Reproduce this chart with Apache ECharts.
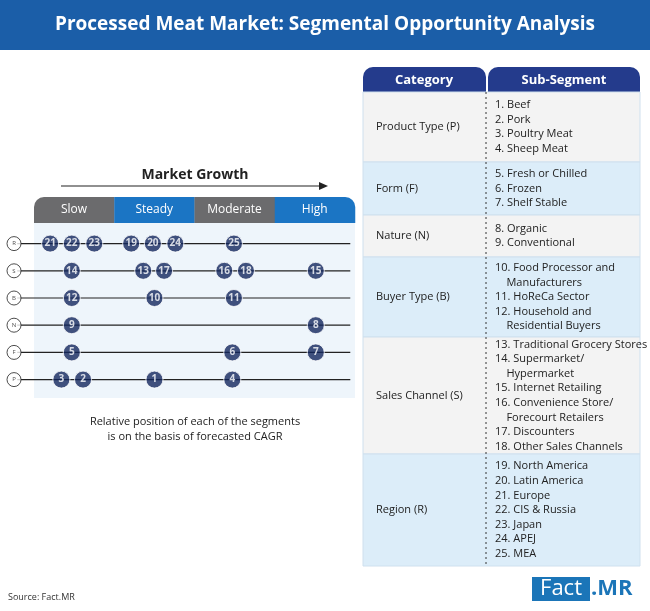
<!DOCTYPE html>
<html><head><meta charset="utf-8">
<script src="https://cdn.jsdelivr.net/npm/echarts@6/dist/echarts.min.js"></script>
<style>html,body{margin:0;padding:0;background:#fff}#c{width:650px;height:611px}</style>
</head><body><div id="c"></div>
<script>
const title = 'Processed Meat Market: Segmental Opportunity Analysis';
const growthLabels = ['Slow','Steady','Moderate','High'];
const rowLetters = ['P','F','N','B','S','R'];
// segment number, growth position (0-4 scale), row index
const segNums = ['21','22','23','19','20','24','25','14','13','17','16','18','15','12','10','11','9','8','5','6','7','3','2','1','4'];
const segX =    [0.2,0.47,0.75,1.21,1.48,1.76,2.49,0.47,1.36,1.62,2.37,2.64,3.51,0.47,1.5,2.49,0.47,3.51,0.47,2.47,3.51,0.34,0.61,1.5,2.47];
const segRow =  [5,5,5,5,5,5,5,4,4,4,4,4,4,3,3,3,2,2,1,1,1,0,0,0,0];
const categories = ['Product Type (P)','Form (F)','Nature (N)','Buyer Type (B)','Sales Channel (S)','Region (R)'];
const subSegments = [
 ['1. Beef','2. Pork','3. Poultry Meat','4. Sheep Meat'],
 ['5. Fresh or Chilled','6. Frozen','7. Shelf Stable'],
 ['8. Organic','9. Conventional'],
 ['10. Food Processor and','    Manufacturers','11. HoReCa Sector','12. Household and','    Residential Buyers'],
 ['13. Traditional Grocery Stores','14. Supermarket/','    Hypermarket','15. Internet Retailing','16. Convenience Store/','    Forecourt Retailers','17. Discounters','18. Other Sales Channels'],
 ['19. North America','20. Latin America','21. Europe','22. CIS & Russia','23. Japan','24. APEJ','25. MEA']
];
const note = ['Relative position of each of the segments','is on the basis of forecasted CAGR'];

const rowBounds = [[92,162],[162,215],[215,257],[257,337],[337,454],[454,566]];
const F = 'Open Sans, sans-serif';
const g = [];
// title bar
g.push({type:'rect',shape:{x:0,y:0,width:650,height:50},style:{fill:'#1b5ea8'}});
g.push({type:'text',x:325,y:25,style:{text:title,fill:'#fff',font:'bold 19px '+F,align:'center',verticalAlign:'middle'}});
// left panel bg
g.push({type:'rect',z:-1,shape:{x:34,y:223,width:321,height:175},style:{fill:'#eef5fb'}});
g.push({type:'text',x:195,y:175,style:{text:'Market Growth',fill:'#222',font:'bold 14px '+F,align:'center',verticalAlign:'middle'}});
g.push({type:'line',shape:{x1:61,y1:186,x2:322,y2:186},style:{stroke:'#222',lineWidth:1.2}});
g.push({type:'polygon',shape:{points:[[328,186],[319,182],[319,190]]},style:{fill:'#222'}});
growthLabels.forEach((t,i)=>{
  const x=34+i*80.25;
  const r = i===0?[10,0,0,0]:(i===3?[0,10,0,0]:0);
  g.push({type:'rect',shape:{x:x,y:197,width:80.5,height:26,r:r},style:{fill:i%2?'#1b75c4':'#6b6b6d'}});
  g.push({type:'text',x:x+40,y:210,style:{text:t,fill:'#fff',font:'12px '+F,align:'center',verticalAlign:'middle'}});
});
g.push({type:'text',x:195,y:429,style:{text:note.join('\n'),fill:'#222',font:'11px '+F,align:'center',verticalAlign:'middle',lineHeight:15}});
// table
g.push({type:'rect',shape:{x:363,y:67,width:123,height:25,r:[10,10,0,0]},style:{fill:'#243b8c'}});
g.push({type:'rect',shape:{x:488,y:67,width:152,height:25,r:[10,10,0,0]},style:{fill:'#243b8c'}});
g.push({type:'text',x:424,y:80,style:{text:'Category',fill:'#fff',font:'bold 13px '+F,align:'center',verticalAlign:'middle'}});
g.push({type:'text',x:564,y:80,style:{text:'Sub-Segment',fill:'#fff',font:'bold 13px '+F,align:'center',verticalAlign:'middle'}});
categories.forEach((c,i)=>{
  const [y0,y1]=rowBounds[i];
  g.push({type:'rect',shape:{x:363,y:y0,width:277,height:y1-y0},style:{fill:i%2?'#dcedf9':'#f3f3f3',stroke:'#cfe0ee',lineWidth:1}});
  g.push({type:'text',x:376,y:(y0+y1)/2,style:{text:c,fill:'#222',font:'11px '+F,verticalAlign:'middle'}});
  g.push({type:'text',x:495,y:(y0+y1)/2,style:{text:subSegments[i].join('\n'),fill:'#222',font:'11px '+F,verticalAlign:'middle',lineHeight:14.6}});
});
g.push({type:'line',shape:{x1:486,y1:92,x2:486,y2:566},style:{stroke:'#333',lineWidth:1,lineDash:[2,3]}});
// footer
g.push({type:'text',x:8,y:597,style:{text:'Source: Fact.MR',fill:'#333',font:'9px '+F,verticalAlign:'middle'}});
g.push({type:'rect',shape:{x:532,y:577,width:58,height:24},style:{fill:'#1b75b8'}});
g.push({type:'text',x:561,y:589,style:{text:'Fact',fill:'#fff',font:'22px '+F,align:'center',verticalAlign:'middle'}});
g.push({type:'text',x:591,y:589,style:{text:'.MR',fill:'#1b75b8',font:'bold 22px '+F,verticalAlign:'middle'}});

const rowLines = rowLetters.map((l,i)=>({type:'line',data:[[-0.21,i+0.5],[3.94,i+0.5]],symbol:'none',silent:true,lineStyle:{color:'#222',width:1.2},z:1}));
const chart = echarts.init(document.getElementById('c'));
chart.setOption({
  animation:false,
  grid:{left:10,width:345.1,top:230,height:163.2},
  xAxis:{type:'value',min:-0.3,max:4,show:false},
  yAxis:{type:'value',min:0,max:6,show:false},
  graphic:g,
  series:[...rowLines,
   {type:'scatter',z:3,symbolSize:14,data:rowLetters.map((l,i)=>[-0.25,i+0.5,l]),
    itemStyle:{color:'#fff',borderColor:'#222',borderWidth:1},
    label:{show:true,formatter:p=>p.data[2],color:'#222',fontSize:6,fontFamily:F}},
   {type:'scatter',z:4,symbolSize:17,data:segNums.map((n,i)=>[segX[i],segRow[i]+0.5,n]),
    itemStyle:{color:'#13275e',borderColor:'#fff',borderWidth:1},
    label:{show:true,formatter:p=>p.data[2],color:'#fff',fontSize:10,fontWeight:'bold',fontFamily:F}}
  ]
});
</script></body></html>
